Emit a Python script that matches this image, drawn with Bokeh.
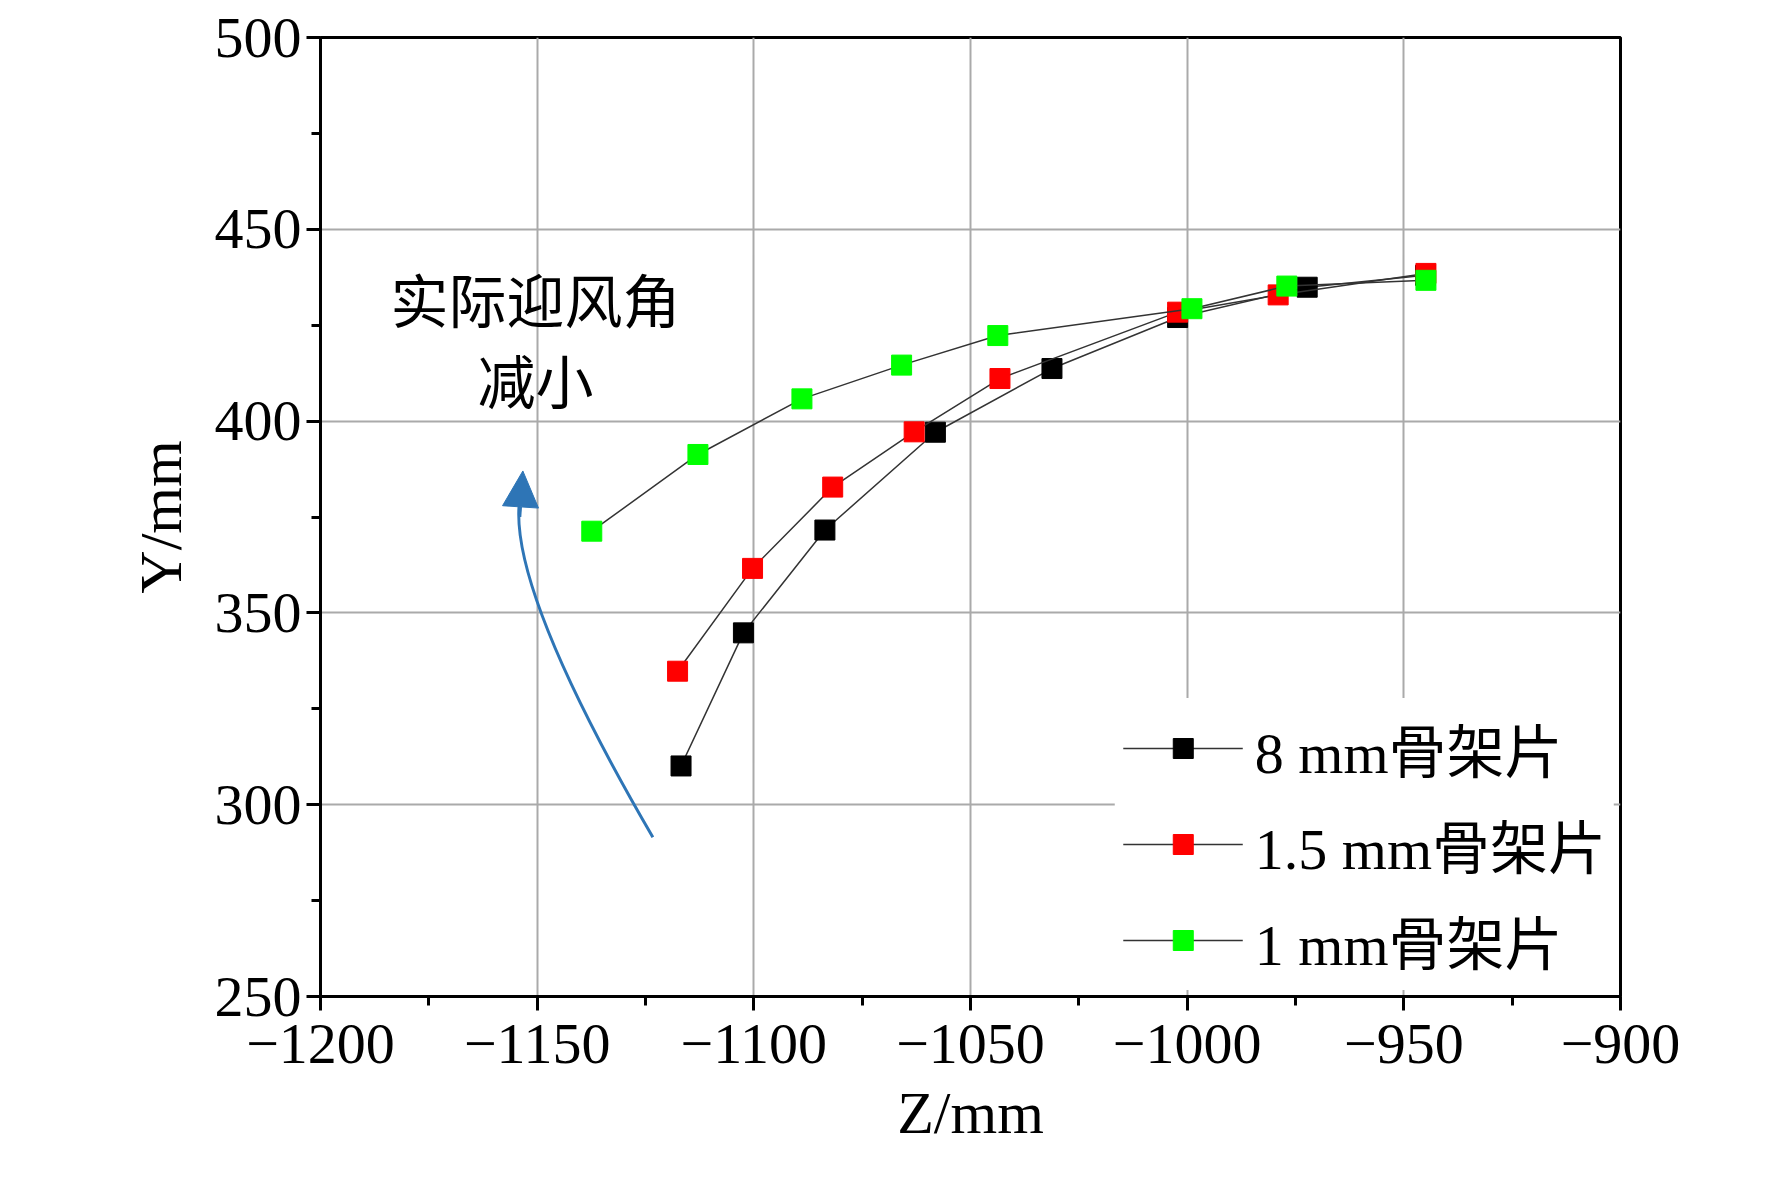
from bokeh.plotting import figure
from bokeh.models import Legend, LegendItem, Arrow, NormalHead, FixedTicker, Label
from bokeh.embed import file_html
from bokeh.resources import INLINE

z_8 = [-1116.8, -1102.4, -1083.6, -1058.1, -1031.2, -1002.2, -972.3, -945.0]
y_8 = [310.1, 344.8, 371.6, 397.1, 413.7, 427.0, 434.9, 438.0]
z_15 = [-1117.6, -1100.3, -1081.8, -1063.0, -1043.2, -1002.2, -979.0, -944.9]
y_15 = [334.8, 361.6, 382.8, 397.2, 411.1, 428.4, 432.9, 438.5]
z_1 = [-1137.4, -1112.9, -1088.9, -1065.9, -1043.7, -998.9, -977.0, -944.9]
y_1 = [371.3, 391.3, 405.8, 414.6, 422.3, 429.3, 435.2, 436.7]
names = ["8 mm骨架片", "1.5 mm骨架片", "1 mm骨架片"]
colors = ["#000000", "#ff0000", "#00ff00"]
x_ticks = [-1200, -1150, -1100, -1050, -1000, -950, -900]
y_ticks = [250, 300, 350, 400, 450, 500]

FONT = "Liberation Serif, Noto Sans CJK SC"
p = figure(width=1756, height=1163, x_range=(-1200, -900), y_range=(250, 500),
           output_backend="svg", toolbar_location=None,
           min_border_left=320, min_border_right=136, min_border_top=37, min_border_bottom=167)
p.outline_line_color = "black"; p.outline_line_width = 3
for ax, t in ((p.xaxis[0], x_ticks), (p.yaxis[0], y_ticks)):
    ax.ticker = FixedTicker(ticks=t, minor_ticks=[v + 25 for v in t[:-1]])
    ax.major_label_text_font = FONT
    ax.major_label_text_font_size = "58px"
    ax.major_label_text_color = "black"
    ax.axis_label_text_font = FONT
    ax.axis_label_text_font_size = "60px"
    ax.axis_label_text_font_style = "normal"
    ax.axis_label_text_color = "black"
    ax.axis_line_width = 3
    ax.major_tick_line_width = 3; ax.minor_tick_line_width = 3
    ax.major_tick_out = 14; ax.major_tick_in = 0
    ax.minor_tick_out = 9; ax.minor_tick_in = 0
p.xaxis[0].major_label_overrides = {v: "\u2212" + str(abs(v)) for v in x_ticks}
p.xaxis[0].major_label_standoff = 14
p.xaxis[0].axis_label_standoff = 14
p.yaxis[0].axis_label_standoff = 18
p.xaxis.axis_label = "Z/mm"
p.yaxis.axis_label = "Y/mm"
p.grid.grid_line_color = "#aaaaaa"; p.grid.grid_line_width = 2

items = []
for zs, ys, n, c in ((z_8, y_8, names[0], colors[0]), (z_15, y_15, names[1], colors[1]), (z_1, y_1, names[2], colors[2])):
    l = p.line(zs, ys, line_color="#333333", line_width=1.5)
    s = p.scatter(zs, ys, marker="square", size=20, fill_color=c, line_color=c)
    items.append(LegendItem(label=n, renderers=[l, s]))
leg = Legend(items=items, location="bottom_right", label_text_font=FONT, label_text_font_size="58px",
             label_text_color="black",
             glyph_width=120, glyph_height=50, spacing=12, border_line_alpha=0,
             background_fill_alpha=1, margin=6, padding=8, label_standoff=12)
p.add_layout(leg)

p.quadratic(x0=[-1123.3], y0=[291.5], x1=[-1153.3], y1=[383.0], cx=[-1159.7], cy=[362.2],
            line_color="#2e75b6", line_width=3)
p.add_layout(Arrow(end=NormalHead(size=36, fill_color="#2e75b6", line_color="#2e75b6"),
                   x_start=-1154.0, y_start=375.0, x_end=-1153.3, y_end=387.0,
                   line_color="#2e75b6", line_width=3))
for txt, yy in (("实际迎风角", 430.6), ("减小", 409.5)):
    p.add_layout(Label(x=-1150.4, y=yy, text=txt, text_align="center", text_baseline="middle",
                       text_font=FONT, text_font_size="58px", text_color="black"))

open("out.html", "w").write(file_html(p, INLINE))
